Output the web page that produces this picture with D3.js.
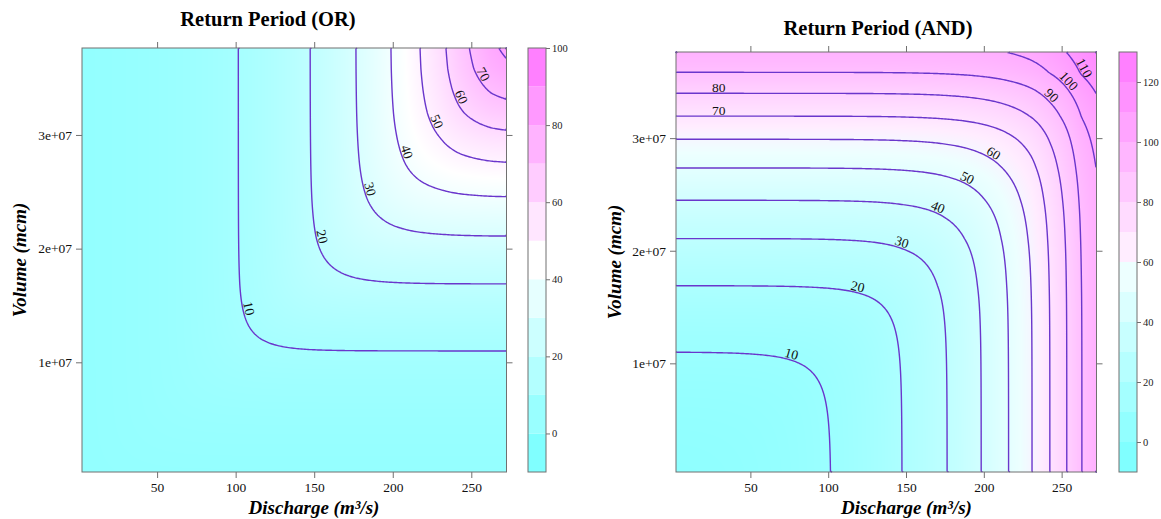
<!DOCTYPE html>
<html>
<head>
<meta charset="utf-8">
<script src="https://cdn.jsdelivr.net/npm/d3@7"></script>
<style>
body { margin: 0; background: #fff; }
svg { display: block; font-family: "Liberation Serif", "Times New Roman", serif; }
</style>
</head>
<body>
<script>
// return periods (years) and where each contour runs straight: discharge (m3/s) and volume
// (the 100-year values lie just outside the frame)
var returnPeriods = [10, 20, 30, 40, 50, 60, 70, 80, 90, 100];
var dischargeAtT  = [101.7, 147.4, 176.4, 198.3, 215.9, 231.0, 242.4, 253.3, 262.9, 276.3];
var volumeAtT     = [1.10e7, 1.689e7, 2.108e7, 2.448e7, 2.735e7, 2.99e7, 3.195e7, 3.398e7, 3.584e7, 3.838e7];
var copulaTheta = 4.0;   // Gumbel dependence, judged from how round the bends are

var dischargeRange = [2.2, 272.4];
var volumeRange = [3.5e5, 3.765e7];

var orLevels  = [10, 20, 30, 40, 50, 60, 70, 80, 90];
var andLevels = [10, 20, 30, 40, 50, 60, 70, 80, 90, 100, 110, 120];
var orBreaks  = [-10, 0, 10, 20, 30, 40, 50, 60, 70, 80, 90, 100];
var andBreaks = [-10, 0, 10, 20, 30, 40, 50, 60, 70, 80, 90, 100, 110, 120, 130];
var orKeyTicks  = [0, 20, 40, 60, 80, 100];
var andKeyTicks = [0, 20, 40, 60, 80, 100, 120];

var xTicks = [50, 100, 150, 200, 250];
var yTicks = [1e7, 2e7, 3e7];
var yTickLabels = ["1e+07", "2e+07", "3e+07"];

// AND labels that sit flat on the horizontal arm, and at which discharge
var flatLabelLevels = [70, 80];
var flatLabelDischarge = [30, 30];

var lineColor = "#6a36cc";
var frameColor = "#707070";

var svg = d3.select("body").append("svg")
	.attr("width", 1161)
	.attr("height", 519);

// R's cm.colors(n)
function cmColors(n) {
	var even = n % 2 === 0, k = Math.floor(n / 2);
	var l1 = k + 1 - (even ? 1 : 0), l2 = n - k + (even ? 1 : 0);
	var sEnd = even ? 0.5 / k : 0;
	var out = [];
	for (var i = 0; i < l1; i++) {
		var s = 0.5 + (sEnd - 0.5) * i / (l1 - 1);
		out.push(d3.rgb(255 * (1 - s), 255, 255).toString());
	}
	for (var i = 1; i < l2; i++) {
		var s = 0.5 * i / (l2 - 1);
		out.push(d3.rgb(255, 255 * (1 - s), 255).toString());
	}
	return out;
}

var reduced = returnPeriods.map(function(t) { return -Math.log(-Math.log(1 - 1 / t)); });
var qToR = d3.scaleLinear().domain(dischargeAtT).range(reduced);
var vToR = d3.scaleLinear().domain(volumeAtT).range(reduced);

function prob(r) { return Math.exp(-Math.exp(-r)); }
function copula(u, v) {
	var a = Math.pow(-Math.log(u), copulaTheta), b = Math.pow(-Math.log(v), copulaTheta);
	return Math.exp(-Math.pow(a + b, 1 / copulaTheta));
}
function periodOR(q, vol) {
	var u = prob(qToR(q)), v = prob(vToR(vol));
	return 1 / (1 - copula(u, v));
}
function periodAND(q, vol) {
	var u = prob(qToR(q)), v = prob(vToR(vol));
	return 1 / (1 - u - v + copula(u, v));
}

// cut a contour ring where it runs along the grid border
function openLines(ring, n, m) {
	var pts = ring.slice(0, -1), L = pts.length;
	function same(a, b) {
		return (a[0] === 0 && b[0] === 0) || (a[0] === n && b[0] === n) ||
			(a[1] === 0 && b[1] === 0) || (a[1] === m && b[1] === m);
	}
	var start = -1;
	for (var k = 0; k < L; k++) {
		if (same(pts[k], pts[(k + 1) % L])) { start = (k + 1) % L; break; }
	}
	if (start < 0) return [ring];
	var lines = [], cur = [pts[start]];
	for (var s = 1; s <= L; s++) {
		var a = pts[(start + s - 1) % L], b = pts[(start + s) % L];
		if (same(a, b)) { if (cur.length > 1) lines.push(cur); cur = [b]; }
		else cur.push(b);
	}
	if (cur.length > 1) lines.push(cur);
	return lines;
}

function drawPanel(cfg) {
	var g = svg.append("g");
	var x = d3.scaleLinear().domain(dischargeRange).range([cfg.left, cfg.right]);
	var y = d3.scaleLinear().domain(volumeRange).range([cfg.bottom, cfg.top]);
	var colors = cmColors(cfg.breaks.length - 1);
	var mids = d3.pairs(cfg.breaks).map(function(p) { return (p[0] + p[1]) / 2; });
	var fill = d3.scaleLinear().domain(mids).range(colors).clamp(true);

	// filled surface
	var pw = Math.round(cfg.right - cfg.left), ph = Math.round(cfg.bottom - cfg.top);
	var canvas = document.createElement("canvas");
	canvas.width = pw; canvas.height = ph;
	var ctx = canvas.getContext("2d");
	var img = ctx.createImageData(pw, ph);
	for (var j = 0; j < ph; j++) {
		var vol = y.invert(cfg.top + j + 0.5);
		for (var i = 0; i < pw; i++) {
			var c = d3.rgb(fill(cfg.period(x.invert(cfg.left + i + 0.5), vol)));
			var k = (j * pw + i) * 4;
			img.data[k] = c.r; img.data[k + 1] = c.g; img.data[k + 2] = c.b; img.data[k + 3] = 255;
		}
	}
	ctx.putImageData(img, 0, 0);
	g.append("image")
		.attr("href", canvas.toDataURL())
		.attr("x", cfg.left).attr("y", cfg.top)
		.attr("width", cfg.right - cfg.left).attr("height", cfg.bottom - cfg.top)
		.attr("preserveAspectRatio", "none");

	// contour lines
	var n = 260, m = 260;
	var stepX = (dischargeRange[1] - dischargeRange[0]) / n;
	var stepY = (volumeRange[1] - volumeRange[0]) / m;
	var grid = new Array(n * m);
	for (var j = 0; j < m; j++)
		for (var i = 0; i < n; i++)
			grid[j * n + i] = cfg.period(dischargeRange[0] + (i + 0.5) * stepX, volumeRange[0] + (j + 0.5) * stepY);
	var contours = d3.contours().size([n, m]).smooth(true).thresholds(cfg.levels)(grid);

	var line = d3.line();
	contours.forEach(function(ct) {
		ct.coordinates.forEach(function(poly) {
			poly.forEach(function(ring) {
				openLines(ring, n, m).forEach(function(pts) {
					var data = pts.map(function(p) {
						return [dischargeRange[0] + p[0] * stepX, volumeRange[0] + p[1] * stepY];
					});
					var px = data.map(function(d) { return [x(d[0]), y(d[1])]; });
					g.append("path")
						.attr("d", line(px))
						.attr("fill", "none")
						.attr("stroke", lineColor)
						.attr("stroke-width", 1.4);
					var len = d3.sum(d3.pairs(px), function(p) { return Math.hypot(p[1][0] - p[0][0], p[1][1] - p[0][1]); });
					if (len > 45) cfg.labels.push({ level: ct.value, data: data, px: px });
				});
			});
		});
	});

	// contour labels (deepest point inside the panel, aligned with the curve)
	cfg.labels.forEach(function(lb) {
		var fi = cfg.flatLevels.indexOf(lb.level), at, angle = 0;
		if (fi >= 0) {
			at = d3.minIndex(lb.data, function(d) { return Math.abs(d[0] - cfg.flatAt[fi]); });
		} else {
			var depth = lb.data.map(function(d) {
				return Math.min(
					Math.min(d[0] - dischargeRange[0], dischargeRange[1] - d[0]) / (dischargeRange[1] - dischargeRange[0]),
					Math.min(d[1] - volumeRange[0], volumeRange[1] - d[1]) / (volumeRange[1] - volumeRange[0]));
			});
			at = Math.min(d3.maxIndex(depth), lb.px.length - 2);
			var a = lb.px[at], b = lb.px[at + 1];
			angle = Math.atan((b[1] - a[1]) / (b[0] - a[0])) * 180 / Math.PI;
			if (!isFinite(angle)) angle = 90;
		}
		var p = lb.px[at];
		g.append("text")
			.attr("transform", "translate(" + p[0] + "," + p[1] + ") rotate(" + angle + ")")
			.attr("y", -1.5)
			.attr("text-anchor", "middle")
			.attr("font-size", 13.5)
			.attr("fill", "#111")
			.text(lb.level);
	});

	// frame and axes
	g.append("rect")
		.attr("x", cfg.left).attr("y", cfg.top)
		.attr("width", cfg.right - cfg.left).attr("height", cfg.bottom - cfg.top)
		.attr("fill", "none").attr("stroke", frameColor);

	var axes = [
		[d3.axisBottom(x).tickValues(xTicks).tickFormat(d3.format("d")), "translate(0," + cfg.bottom + ")"],
		[d3.axisTop(x).tickValues(xTicks).tickFormat(""), "translate(0," + cfg.top + ")"],
		[d3.axisLeft(y).tickValues(yTicks).tickFormat(function(d, i) { return yTickLabels[i]; }), "translate(" + cfg.left + ",0)"],
		[d3.axisRight(y).tickValues(yTicks).tickFormat(""), "translate(" + cfg.right + ",0)"]
	];
	axes.forEach(function(a) {
		var ax = g.append("g").attr("transform", a[1])
			.call(a[0].tickSize(6).tickPadding(4));
		ax.select(".domain").remove();
		ax.selectAll("line").attr("stroke", frameColor);
		ax.selectAll("text").attr("font-family", "Liberation Serif").attr("font-size", 13.5).attr("fill", "#111");
	});

	// colour key
	var yk = d3.scaleLinear().domain([cfg.breaks[0], cfg.breaks[cfg.breaks.length - 1]]).range([cfg.bottom, cfg.top]);
	g.selectAll(".key").data(d3.pairs(cfg.breaks)).enter().append("rect")
		.attr("x", cfg.keyLeft).attr("width", cfg.keyRight - cfg.keyLeft)
		.attr("y", function(d) { return yk(d[1]); })
		.attr("height", function(d) { return yk(d[0]) - yk(d[1]); })
		.attr("fill", function(d, i) { return colors[i]; });
	g.append("rect")
		.attr("x", cfg.keyLeft).attr("y", cfg.top)
		.attr("width", cfg.keyRight - cfg.keyLeft).attr("height", cfg.bottom - cfg.top)
		.attr("fill", "none").attr("stroke", frameColor);
	var kx = g.append("g").attr("transform", "translate(" + cfg.keyRight + ",0)")
		.call(d3.axisRight(yk).tickValues(cfg.keyTicks).tickSize(4).tickPadding(2));
	kx.select(".domain").remove();
	kx.selectAll("line").attr("stroke", frameColor);
	kx.selectAll("text").attr("font-family", "Liberation Serif").attr("font-size", 10.5).attr("fill", "#222");

	// titles
	g.append("text")
		.attr("x", cfg.titleX).attr("y", cfg.titleY)
		.attr("text-anchor", "middle")
		.attr("font-weight", "bold").attr("font-size", 20.5)
		.text(cfg.title);
	g.append("text")
		.attr("x", (cfg.left + cfg.keyRight) / 2).attr("y", 514)
		.attr("text-anchor", "middle")
		.attr("font-weight", "bold").attr("font-style", "italic").attr("font-size", 19)
		.text("Discharge (m\u00b3/s)");
	g.append("text")
		.attr("transform", "translate(" + cfg.ylabX + "," + ((cfg.top + cfg.bottom) / 2) + ") rotate(-90)")
		.attr("text-anchor", "middle")
		.attr("font-weight", "bold").attr("font-style", "italic").attr("font-size", 19)
		.text("Volume (mcm)");
}

drawPanel({
	title: "Return Period (OR)", titleX: 268, titleY: 26,
	left: 82, right: 506.5, top: 48, bottom: 472,
	keyLeft: 528, keyRight: 546, ylabX: 26,
	breaks: orBreaks, keyTicks: orKeyTicks, levels: orLevels,
	period: periodOR, labels: [], flatLevels: [], flatAt: []
});

drawPanel({
	title: "Return Period (AND)", titleX: 878, titleY: 35,
	left: 676, right: 1096.5, top: 52, bottom: 472,
	keyLeft: 1119, keyRight: 1137, ylabX: 621,
	breaks: andBreaks, keyTicks: andKeyTicks, levels: andLevels,
	period: periodAND, labels: [], flatLevels: flatLabelLevels, flatAt: flatLabelDischarge
});
</script>
</body>
</html>
